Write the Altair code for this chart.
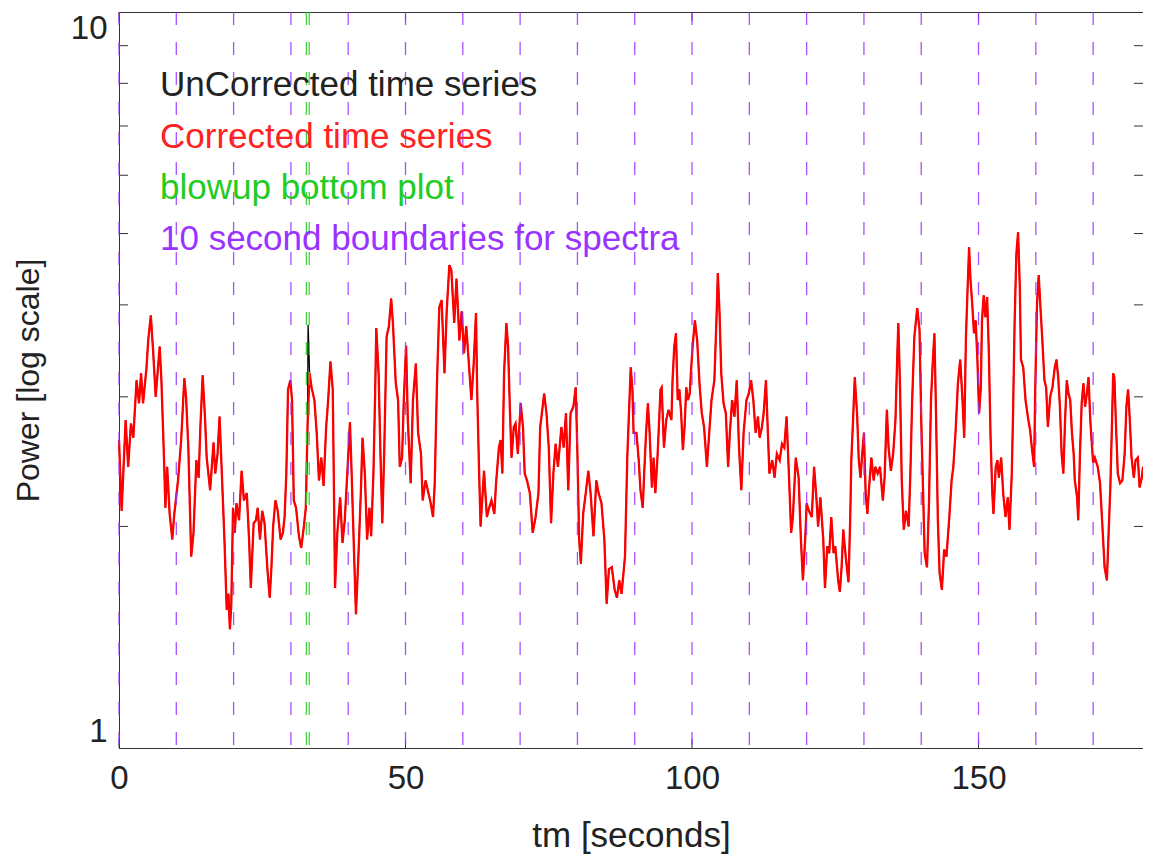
import altair as alt
import pandas as pd

# ---------------- data ----------------
time_s = [
    0, 0.46, 1.16, 1.6, 2.08, 2.5, 3.06, 3.5, 3.85, 4.2, 4.8, 5.1, 5.55, 5.95, 6.4, 7.1, 7.4, 7.85, 8.1, 8.4,
    8.84, 9.3, 9.65, 10.3, 10.85, 11.4, 11.7, 12.1, 12.6, 13.0, 13.5, 13.9, 14.2, 14.6, 15.0, 15.3, 15.9, 16.5,
    16.8, 17.2, 17.55, 17.9, 18.4, 18.8, 19.1, 19.35, 19.6, 19.9, 20.2, 20.5, 20.95, 21.4, 21.8, 22.3, 22.7,
    23.0, 23.5, 23.9, 24.2, 24.6, 25.0, 25.4, 25.9, 26.3, 26.6, 26.9, 27.3, 27.7, 28.2, 28.6, 28.9, 29.2, 29.5,
    29.9, 30.2, 30.5, 30.9, 31.4, 31.8, 32.2, 32.6, 32.9, 33.26, 33.6, 34.1, 34.5, 34.9, 35.3, 35.7, 36.15,
    36.5, 36.9, 37.3, 37.55, 37.7, 38.1, 38.6, 39.0, 39.4, 39.9, 40.3, 40.6, 41.0, 41.35, 41.8, 42.2, 42.5,
    42.9, 43.3, 43.7, 44.0, 44.4, 44.7, 44.9, 45.3, 45.6, 45.95, 46.3, 46.7, 47.1, 47.5, 47.8, 48.3, 48.7,
    49.0, 49.4, 49.7, 50.1, 50.4, 50.9, 51.3, 51.8, 52.2, 52.7, 53.0, 53.5, 54.0, 54.4, 54.8, 55.1, 55.5,
    55.9, 56.3, 56.8, 57.2, 57.65, 58.0,
    58.5, 58.9, 59.4, 59.8, 60.2, 60.6, 61.1, 61.5, 61.9, 62.3, 62.5, 62.85, 63.1, 63.7, 64.2, 64.6, 65.0,
    65.5, 65.8, 66.3, 66.6, 66.9, 67.2, 67.6, 67.9, 68.2, 68.5, 68.9, 69.2, 69.6, 70.1, 70.5, 70.8, 71.2,
    71.7, 72.2, 72.7, 73.2, 73.5, 73.8, 74.2, 74.6, 75.0, 75.4, 75.8, 76.2, 76.6, 77.2, 77.6, 78.0, 78.4,
    78.8, 79.3, 79.7, 80.0, 80.3, 80.6, 81.0, 81.45, 81.9, 82.3, 82.8, 83.3, 83.7, 84.2, 84.7, 85.1, 85.5,
    86.0, 86.5, 86.9, 87.3, 87.7, 88.3,
    88.7, 88.95, 89.3, 89.6, 89.8, 90.3, 90.7, 91.0, 91.4, 91.7, 92.0, 92.3, 92.6, 93.0, 93.3, 93.6, 94.0,
    94.5, 94.7, 95.1, 95.5, 95.9, 96.4, 96.6, 96.9, 97.2, 97.5, 97.8, 98.1, 98.4, 98.7, 99.0, 99.3, 99.6,
    99.8, 100.1, 100.5, 100.9, 101.3, 101.7, 102.1, 102.6, 103.0, 103.4, 103.9, 104.3, 104.5, 104.8, 105.1,
    105.5, 105.9, 106.3, 106.6, 107.0, 107.4, 107.8, 108.2, 108.6, 109.0, 109.5, 109.9, 110.3, 110.7, 111.1,
    111.5, 111.8, 112.2, 112.5, 112.9, 113.2, 113.5, 114.0, 114.4, 114.8, 115.3, 115.7, 116.1, 116.5, 116.9,
    117.3, 117.6,
    118.1, 118.6, 119.0, 119.35, 119.8, 120.0, 120.4, 120.9, 121.3, 121.7, 122.0, 122.4, 122.9, 123.2, 123.6,
    123.95, 124.3, 124.7, 125.0, 125.5, 125.8, 126.1, 126.4, 126.7, 126.95, 127.3, 127.6, 127.8, 128.1, 128.4,
    128.8, 129.1, 129.4, 129.7, 130.0, 130.3, 130.6, 130.9, 131.3, 131.7, 132.0, 132.4, 132.8, 133.3, 133.6,
    134.0, 134.3, 134.7, 135.1, 135.5, 135.8, 136.0, 136.3, 136.6, 136.95, 137.35, 137.8, 138.1, 138.4, 138.8,
    139.3, 139.7, 140.0, 140.3, 140.6, 141.0, 141.35, 141.7, 142.0, 142.3, 142.6, 142.9, 143.2, 143.6, 144.0,
    144.4, 144.9, 145.3, 145.6, 146.0, 146.4, 146.8, 147.2,
    147.5, 147.8, 148.1, 148.35, 148.6, 148.9, 149.2, 149.5, 149.8, 150.1, 150.4, 150.6, 150.9, 151.2, 151.5,
    151.8, 152.1, 152.4, 152.6, 153.0, 153.3, 153.55, 153.95, 154.3, 154.7, 155.1, 155.4, 155.8, 156.0, 156.3,
    156.6, 156.9, 157.2, 157.4, 157.8, 158.2, 158.6, 159.0, 159.3, 159.7, 159.9, 160.2, 160.5, 160.8, 161.1,
    161.5, 161.8, 162.1, 162.5, 162.9, 163.3, 163.6, 163.9, 164.2, 164.5, 164.8, 165.1, 165.4, 165.7, 166.0,
    166.3, 166.6, 166.8, 167.2, 167.4, 167.7, 168.0, 168.3, 168.6, 168.9, 169.2, 169.5, 169.7, 170.0, 170.3,
    170.8, 171.2, 171.5, 171.8, 172.0, 172.4, 172.7, 173.0, 173.3, 173.5, 173.7, 174.0, 174.3, 174.7, 175.1,
    175.5, 175.8, 176.1, 176.4, 176.7, 177.1, 177.4, 177.8, 178.1, 178.5, 178.7,
]

power = [
    2.62, 2.1, 2.79, 2.41, 2.76, 2.64, 3.16, 2.94, 3.23, 2.94, 3.29, 3.58, 3.87, 3.47, 3.0, 3.51, 3.16, 2.48, 2.12, 2.41,
    2.08, 1.92, 2.08, 2.31, 2.62, 3.18, 3.0, 2.56, 1.82, 1.96, 2.46, 2.33, 2.73, 3.21, 2.82, 2.48, 2.24, 2.60,
    2.36, 2.51, 2.82, 2.41, 1.92, 1.54, 1.62, 1.45, 1.57, 2.12, 1.96, 2.15, 2.04, 2.38, 2.17, 2.22, 1.92,
    1.65, 2.02, 2.04, 2.12, 1.92, 2.10, 2.02, 1.75, 1.60, 1.76, 2.0, 2.17, 2.10, 1.92, 1.96, 2.06, 2.36, 3.07,
    3.16, 2.97, 2.17, 2.12, 1.94, 1.87, 1.98, 2.12, 2.73, 3.23, 3.09, 2.97, 2.68, 2.31, 2.48, 2.27, 2.73,
    2.97, 3.35, 3.07, 2.12, 1.65, 1.96, 2.19, 1.90, 2.04, 2.41, 2.77, 2.36, 1.86, 1.52, 1.84, 2.22, 2.64,
    2.36, 1.92, 2.12, 1.94, 2.36, 3.03, 3.72, 3.23, 2.56, 2.02, 2.56, 3.62, 3.74, 4.08, 3.78, 3.13, 2.97,
    2.41, 2.48, 2.97, 3.52, 2.79, 2.29, 2.97, 3.33, 2.68, 2.51, 2.17, 2.31, 2.22, 2.15, 2.06, 2.29, 3.16,
    3.97, 4.06, 3.23, 3.94, 4.53, 4.46,
    3.78, 4.34, 3.58, 3.92, 3.44, 3.74, 3.29, 2.97, 3.33, 3.90, 3.07, 2.36, 2.0, 2.38, 2.06, 2.12, 2.17,
    2.08, 2.29, 2.56, 2.62, 2.36, 3.23, 3.78, 3.51, 2.91, 2.48, 2.73, 2.76, 2.51, 2.94, 2.73, 2.36, 2.31,
    2.22, 1.96, 2.06, 2.22, 2.73, 2.85, 3.03, 2.85, 2.56, 2.02, 2.36, 2.59, 2.41, 2.73, 2.56, 2.85, 2.24,
    2.85, 2.91, 3.09, 2.51, 1.92, 1.78, 2.08, 2.22, 2.38, 2.22, 1.94, 2.31, 2.22, 2.15, 1.92, 1.57, 1.75,
    1.76, 1.64, 1.60, 1.69, 1.62, 1.82,
    2.48, 2.79, 3.29, 3.07, 2.68, 2.68, 2.46, 2.24, 2.12, 2.41, 2.70, 2.94, 2.68, 2.26, 2.48, 2.22, 2.51,
    3.07, 3.09, 2.56, 2.79, 2.88, 2.79, 3.16, 3.51, 3.66, 2.97, 3.07, 2.85, 2.54, 2.73, 3.09, 2.97, 3.03,
    3.23, 3.51, 3.81, 3.58, 3.13, 2.85, 2.73, 2.41, 2.68, 2.97, 3.16, 3.90, 4.42, 3.90, 3.23,
    2.94, 2.85, 2.41, 2.68, 2.97, 2.82, 3.16, 2.56, 2.24, 2.68, 2.97, 3.03, 3.16, 2.97, 2.68,
    2.82, 2.64, 2.73, 2.85, 3.16, 2.73, 2.36, 2.46, 2.33, 2.51, 2.46, 2.59, 2.56, 2.82, 2.36,
    1.96, 2.06,
    2.48, 2.33, 1.92, 1.69, 1.96, 2.15, 2.10, 2.06, 2.41, 2.19, 2.0, 2.19, 1.92, 1.65, 1.88,
    1.84, 2.06, 1.84, 1.88, 1.69, 1.63, 1.76, 1.98, 1.86, 1.78, 1.68, 2.04, 2.46, 2.79, 3.19,
    2.85, 2.46, 2.33, 2.51, 2.68, 2.22, 2.08, 2.26, 2.48, 2.31, 2.41, 2.36, 2.41, 2.17, 2.33,
    2.88, 2.56, 2.38, 2.51, 2.79, 3.37, 3.78, 3.09, 2.31, 1.98, 2.10, 2.0, 2.36, 2.94, 3.62,
    3.96, 3.70, 2.79, 2.26, 1.84, 1.76, 2.15, 2.97, 3.33, 3.66, 2.79, 2.04, 1.73, 1.64, 1.86,
    1.82, 2.06, 2.31, 2.41, 2.70, 3.13, 3.37, 2.97,
    2.64, 3.62, 4.23, 4.79, 4.32, 4.01, 3.66, 3.81, 3.37, 2.85, 3.09, 3.81, 4.12, 3.85, 4.10,
    3.44, 2.64, 2.22, 2.08, 2.41, 2.46, 2.33, 2.48, 2.22, 2.06, 2.19, 1.98, 2.36, 2.79, 3.81,
    4.69, 5.02, 4.23, 3.37, 3.29, 2.97, 2.82, 2.70, 2.56, 2.41, 3.09, 4.01, 4.39, 3.97, 3.62,
    3.16, 3.09, 2.73, 3.0, 3.09, 3.29, 3.37, 3.19, 2.91, 2.51, 2.36, 2.79, 3.16, 3.03, 2.97,
    2.68, 2.51, 2.31, 2.19, 2.04, 2.51, 2.94, 3.13, 2.91, 3.03, 3.19, 2.79, 2.64, 2.44, 2.48,
    2.41, 2.29, 2.08, 1.88, 1.76, 1.69, 1.96, 2.26, 2.79, 3.23, 3.19, 2.73, 2.36, 2.29, 2.31,
    2.51, 2.91, 3.07, 2.79, 2.48, 2.33, 2.46, 2.48, 2.26, 2.33, 2.41,
]

# the uncorrected series differs from the corrected one only at this spike
spike_time = [33.0]
spike_power = [3.76]

boundary_s = [0, 10, 20, 30, 40, 50, 60, 70, 80, 90, 100, 110, 120, 130, 140, 150, 160, 170]
blowup_s = [32.7, 33.2]
minor_power = [2, 3, 4, 5, 6, 7, 8, 9]
x_tick_values = [0, 50, 100, 150]
y_tick_values = [1, 10]

legend_text = [
    "UnCorrected time series",
    "Corrected time series",
    "blowup bottom plot",
    "10 second boundaries for spectra",
]

# ---------------- styling / layout ----------------
FONT = "Liberation Sans"
W, H = 1024, 736
legend_colors = ["#222222", "#ff2222", "#22cc22", "#9933ff"]
legend_rows_px = [73, 125, 176, 227]
TICK_LEN = 9

corr = pd.DataFrame({"t": time_s, "p": power})
unc = pd.concat([corr, pd.DataFrame({"t": spike_time, "p": spike_power})]).sort_values("t")

xsc = alt.Scale(domain=[0, 178.7], nice=False, zero=False)
ysc = alt.Scale(type="log", domain=[1, 10], nice=False)

x_axis = alt.Axis(
    values=x_tick_values, format="d", ticks=False, tickSize=0, labelFlush=False,
    labelFontSize=33, labelPadding=14, labelColor="#222222", labelFont=FONT,
    domainColor="#333333", grid=False,
    title="tm [seconds]", titleFontSize=35, titleFont=FONT, titleFontWeight="normal",
    titleColor="#222222", titleY=98, titleBaseline="alphabetic",
)
y_axis = alt.Axis(
    values=y_tick_values, format="d", ticks=False, tickSize=0, labelFlush=True,
    labelFontSize=33, labelPadding=12, labelColor="#222222", labelFont=FONT,
    domainColor="#333333", grid=False,
    title="Power [log scale]", titleFontSize=32, titleFont=FONT, titleFontWeight="normal",
    titleColor="#222222", titleX=-91, titleY=368, titleAngle=270,
    titleAlign="center", titleBaseline="middle",
)


def X():
    return alt.X("t:Q", scale=xsc, axis=x_axis, title="tm [seconds]")


def Y():
    return alt.Y("p:Q", scale=ysc, axis=y_axis, title="Power [log scale]")


minor_df = pd.DataFrame({"p": minor_power})
major_df = pd.DataFrame({"t": x_tick_values})

unc_line = alt.Chart(unc).mark_line(color="#000000", strokeWidth=1.3).encode(x=X(), y=Y())
corr_line = alt.Chart(corr).mark_line(color="#ff0000", strokeWidth=2.3).encode(x=X(), y=Y())

left_ticks = alt.Chart(minor_df).mark_rule(color="#333333", strokeWidth=1).encode(
    x=alt.value(0), x2=alt.value(TICK_LEN), y=Y())
right_ticks = alt.Chart(minor_df).mark_rule(color="#333333", strokeWidth=1).encode(
    x=alt.value(W - TICK_LEN), x2=alt.value(W), y=Y())
bottom_ticks = alt.Chart(major_df).mark_rule(color="#333333", strokeWidth=1).encode(
    x=X(), y=alt.value(H - TICK_LEN), y2=alt.value(H))
top_ticks = alt.Chart(major_df).mark_rule(color="#333333", strokeWidth=1).encode(
    x=X(), y=alt.value(0), y2=alt.value(TICK_LEN))

bounds = alt.Chart(pd.DataFrame({"t": boundary_s})).mark_rule(
    color="#9933ff", strokeDash=[13, 17], strokeWidth=1.3, opacity=0.85
).encode(x=X())
blow = alt.Chart(pd.DataFrame({"t": blowup_s})).mark_rule(
    color="#33cc33", strokeDash=[13, 17], strokeWidth=1.3, opacity=0.9
).encode(x=X())

legend_layers = []
for txt, col, ypx in zip(legend_text, legend_colors, legend_rows_px):
    legend_layers.append(
        alt.Chart(pd.DataFrame({"label": [txt]})).mark_text(
            align="left", baseline="middle", font=FONT, fontSize=35, color=col
        ).encode(x=alt.value(41), y=alt.value(ypx), text="label:N")
    )

chart = alt.layer(
    unc_line, corr_line, left_ticks, right_ticks, bottom_ticks, top_ticks,
    bounds, blow, *legend_layers
).properties(
    width=W, height=H,
    autosize=alt.AutoSizeParams(type="none"),
    padding={"left": 111, "top": 4, "right": 0, "bottom": 107},
).configure_view(stroke="#333333", strokeWidth=1)

chart.save("out.html", embed_options={"renderer": "svg", "actions": False})
